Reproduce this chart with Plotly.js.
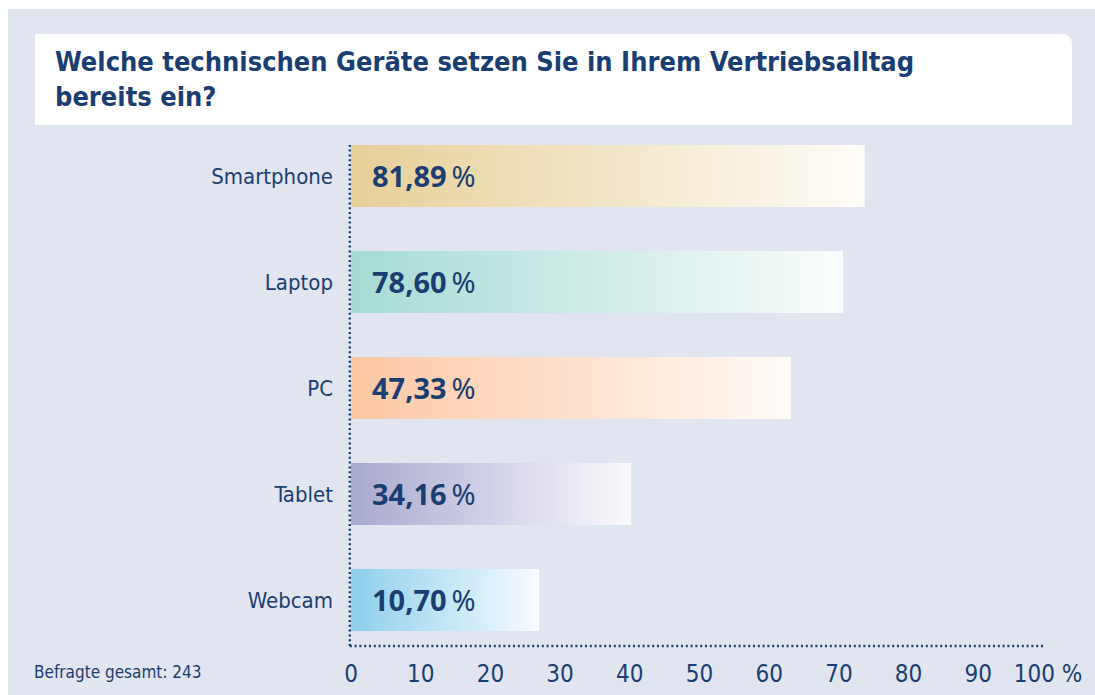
<!DOCTYPE html>
<html>
<head>
<meta charset="utf-8">
<script src="https://cdn.plot.ly/plotly-3.0.1.min.js"></script>
<style>
  html, body { margin: 0; padding: 0; background: #ffffff; width: 1095px; height: 695px; overflow: hidden; }
  #chart { position: absolute; left: 8px; top: 9px; width: 1087px; height: 686px; }
</style>
</head>
<body>
<div id="chart"></div>
<script>
// ---- data ----
const categories = ["Smartphone", "Laptop", "PC", "Tablet", "Webcam"];
// percentages printed on the bars
const shareLabels = ["81,89", "78,60", "47,33", "34,16", "10,70"];
// bar lengths as drawn against the x axis
const barLength = [73.7, 70.6, 63.1, 40.2, 27.0];
const tickValues = [0, 10, 20, 30, 40, 50, 60, 70, 80, 90, 100];
const tickLabels = ["0", "10", "20", "30", "40", "50", "60", "70", "80", "90", "100 %"];
const titleText = "Welche technischen Geräte setzen Sie in Ihrem Vertriebsalltag<br>bereits ein?";
const footnote = "Befragte gesamt: 243";
// gradient colours (left -> right) per bar
const gradLeft  = ["#e6cf98", "#a6dbd4", "#fdc7a4", "#a8a9cf", "#8dcfec"];
const gradRight = ["#fffdf9", "#fbfdfd", "#fffbf8", "#fbfafd", "#f8fcfe"];

// ---- styling ----
const NAVY = "#1b3e72";
const BG = "#e1e5ef";
const W = 1087, H = 686;
const M = { l: 343, r: 47, t: 136, b: 49 };
const PW = W - M.l - M.r, PH = H - M.t - M.b;
const px2paperX = px => (px - M.l) / PW;
const px2paperY = py => (H - M.b - py) / PH;

// title box (div pixel coords) with rounded top-right corner
const bx0 = 27, bx1 = 1064, by0 = 25, by1 = 116, rad = 11;
const boxPath = "M " + px2paperX(bx0) + "," + px2paperY(by1) +
  " L " + px2paperX(bx0) + "," + px2paperY(by0) +
  " L " + px2paperX(bx1 - rad) + "," + px2paperY(by0) +
  " Q " + px2paperX(bx1) + "," + px2paperY(by0) + " " + px2paperX(bx1) + "," + px2paperY(by0 + rad) +
  " L " + px2paperX(bx1) + "," + px2paperY(by1) + " Z";

const condensed = '"DejaVu Sans Condensed", "Liberation Sans Narrow", sans-serif';

const trace = {
  type: "bar",
  orientation: "h",
  y: categories,
  x: barLength,
  marker: { color: gradLeft, line: { width: 0 } },
  hoverinfo: "skip",
  cliponaxis: false
};

const annotations = categories.map((c, i) => ({
  x: 0, y: c, xref: "x", yref: "y",
  text: "<b>" + shareLabels[i] + "</b>\u2009%",
  showarrow: false, xanchor: "left", yanchor: "middle", xshift: 19, yshift: 1,
  font: { family: '"Noto Sans", "Open Sans", sans-serif', size: 29, color: NAVY }
}));
annotations.push({
  x: px2paperX(24), y: px2paperY(663), xref: "paper", yref: "paper",
  text: footnote, showarrow: false, xanchor: "left", yanchor: "middle",
  font: { family: condensed, size: 17, color: NAVY }
});

const axisX = px2paperX(341.8);
const dotted = { color: NAVY, width: 2.4, dash: "2px,2.8px" };

const layout = {
  width: W, height: H,
  margin: M,
  paper_bgcolor: BG,
  plot_bgcolor: BG,
  showlegend: false,
  hovermode: false,
  bargap: 0.415,
  title: {
    text: titleText,
    xref: "container", yref: "container",
    x: 47 / W, xanchor: "left",
    y: 1 - 62 / H, yanchor: "top",
    font: { family: condensed, size: 27, color: NAVY, weight: "bold" }
  },
  xaxis: {
    range: [0, 100],
    tickvals: tickValues,
    ticktext: tickLabels,
    showgrid: false, zeroline: false, showline: false,
    ticks: "",
    ticklabelstandoff: 11,
    tickfont: { family: condensed, size: 24, color: NAVY },
    fixedrange: true
  },
  yaxis: {
    type: "category",
    range: [4.434, -0.2925],
    showgrid: false, zeroline: false, showline: false,
    ticks: "",
    ticklabelstandoff: 17,
    tickfont: { family: condensed, size: 22, color: NAVY },
    fixedrange: true
  },
  shapes: [
    { type: "path", xref: "paper", yref: "paper", path: boxPath,
      fillcolor: "#ffffff", line: { width: 0 }, layer: "below" },
    { type: "line", xref: "paper", yref: "paper", x0: axisX, x1: axisX, y0: 0, y1: 1,
      line: dotted, layer: "above" },
    { type: "line", xref: "paper", yref: "paper", x0: axisX, x1: 0.996, y0: 0, y1: 0,
      line: dotted, layer: "above" }
  ],
  annotations: annotations
};

Plotly.newPlot("chart", [trace], layout, { staticPlot: true, displayModeBar: false, responsive: false })
.then(gd => {
  const ns = "http://www.w3.org/2000/svg";
  const svg = gd.querySelector("svg.main-svg");
  let defs = svg.querySelector("defs");
  if (!defs) { defs = document.createElementNS(ns, "defs"); svg.insertBefore(defs, svg.firstChild); }
  categories.forEach((c, i) => {
    const lg = document.createElementNS(ns, "linearGradient");
    lg.setAttribute("id", "barGrad" + i);
    lg.setAttribute("x1", "0"); lg.setAttribute("y1", "0");
    lg.setAttribute("x2", "1"); lg.setAttribute("y2", "0");
    [[0, gradLeft[i]], [1, gradRight[i]]].forEach(([o, col]) => {
      const s = document.createElementNS(ns, "stop");
      s.setAttribute("offset", o);
      s.setAttribute("stop-color", col);
      lg.appendChild(s);
    });
    defs.appendChild(lg);
  });
  gd.querySelectorAll(".barlayer .point path").forEach((p, i) => {
    p.style.fill = "url(#barGrad" + i + ")";
  });
});
</script>
</body>
</html>
